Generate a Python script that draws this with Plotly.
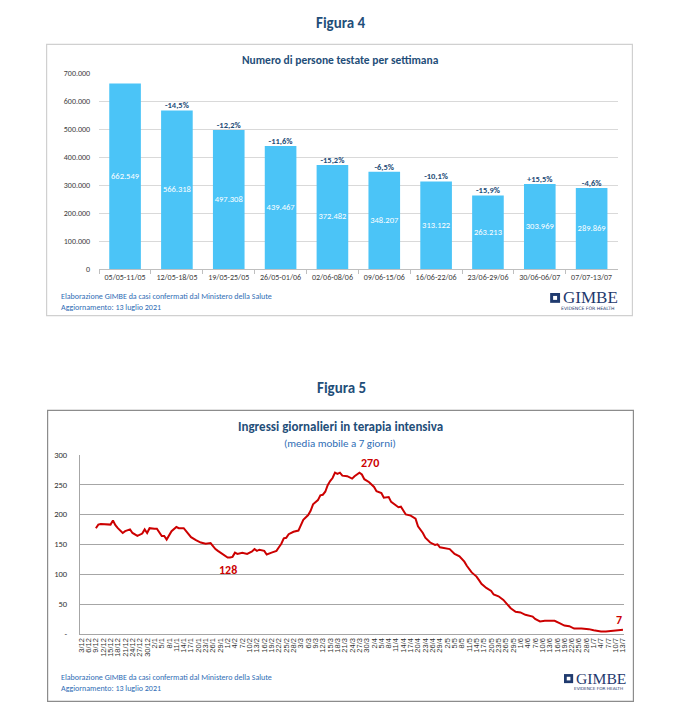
import pandas as pd
import plotly.graph_objects as go

W, H = 682, 726

# ---------------- Figura 4 data ----------------
weeks = ["05/05-11/05", "12/05-18/05", "19/05-25/05", "26/05-01/06", "02/06-08/06",
         "09/06-15/06", "16/06-22/06", "23/06-29/06", "30/06-06/07", "07/07-13/07"]
tested = [662549, 566318, 497308, 439467, 372482, 348207, 313122, 263213, 303969, 289869]
pct_change = ["", "-14,5%", "-12,2%", "-11,6%", "-15,2%", "-6,5%", "-10,1%", "-15,9%", "+15,5%", "-4,6%"]
y4_ticks = [0, 100000, 200000, 300000, 400000, 500000, 600000, 700000]

# ---------------- Figura 5 data ----------------
icu_dates = [
    "2020-12-09", "2020-12-10", "2020-12-11", "2020-12-14", "2020-12-15", "2020-12-16", "2020-12-17",
    "2020-12-18", "2020-12-20", "2020-12-21", "2020-12-23", "2020-12-24", "2020-12-26", "2020-12-28",
    "2020-12-29", "2020-12-30", "2020-12-31", "2021-01-02", "2021-01-03", "2021-01-05", "2021-01-06",
    "2021-01-07", "2021-01-09", "2021-01-11", "2021-01-12", "2021-01-14", "2021-01-15", "2021-01-17",
    "2021-01-19", "2021-01-21", "2021-01-23", "2021-01-25", "2021-01-26", "2021-01-27", "2021-01-28",
    "2021-01-29", "2021-01-31", "2021-02-01", "2021-02-02", "2021-02-03", "2021-02-04", "2021-02-05",
    "2021-02-07", "2021-02-09", "2021-02-11", "2021-02-12", "2021-02-13", "2021-02-14", "2021-02-16",
    "2021-02-17", "2021-02-19", "2021-02-21", "2021-02-22", "2021-02-23", "2021-02-24", "2021-02-25",
    "2021-02-26", "2021-02-28", "2021-03-02", "2021-03-03", "2021-03-04", "2021-03-06", "2021-03-07",
    "2021-03-08", "2021-03-10", "2021-03-11", "2021-03-12", "2021-03-13", "2021-03-14", "2021-03-15",
    "2021-03-16", "2021-03-17", "2021-03-18", "2021-03-19", "2021-03-20", "2021-03-22", "2021-03-23",
    "2021-03-24", "2021-03-25", "2021-03-27", "2021-03-28", "2021-03-29", "2021-03-31", "2021-04-02",
    "2021-04-03", "2021-04-05", "2021-04-06", "2021-04-08", "2021-04-09", "2021-04-11", "2021-04-12",
    "2021-04-13", "2021-04-15", "2021-04-17", "2021-04-19", "2021-04-20", "2021-04-22", "2021-04-23",
    "2021-04-25", "2021-04-27", "2021-04-28", "2021-04-29", "2021-05-01", "2021-05-03", "2021-05-05",
    "2021-05-07", "2021-05-09", "2021-05-10", "2021-05-12", "2021-05-14", "2021-05-15", "2021-05-16",
    "2021-05-18", "2021-05-20", "2021-05-21", "2021-05-23", "2021-05-25", "2021-05-27", "2021-05-28",
    "2021-05-30", "2021-06-01", "2021-06-03", "2021-06-06", "2021-06-07", "2021-06-09", "2021-06-11",
    "2021-06-13", "2021-06-15", "2021-06-17", "2021-06-19", "2021-06-21", "2021-06-23", "2021-06-26",
    "2021-06-29", "2021-07-01", "2021-07-04", "2021-07-06", "2021-07-08", "2021-07-10", "2021-07-12",
    "2021-07-13",
]
icu_values = [
    177, 183, 184, 184, 183, 190, 182,
    177, 169, 172, 175, 169, 164, 168,
    175, 169, 177, 176, 176, 164, 164,
    158, 172, 179, 177, 177, 172, 162,
    157, 153, 151, 152, 147, 142, 139,
    136, 131, 128, 128, 129, 136, 134,
    136, 134, 138, 142, 139, 141, 139,
    133, 136, 139, 145, 151, 160, 161,
    167, 171, 173, 182, 191, 199, 206,
    217, 224, 232, 233, 238, 249, 256,
    261, 270, 268, 270, 265, 264, 262,
    260, 264, 270, 267, 259, 254, 246,
    239, 236, 228, 229, 221, 215, 212,
    213, 200, 198, 193, 180, 169, 161,
    153, 149, 150, 145, 143, 142, 134,
    130, 121, 114, 103, 96, 90, 84,
    77, 72, 66, 63, 57, 48, 43,
    37, 36, 32, 29, 25, 21, 22,
    22, 22, 18, 14, 13, 9, 9,
    8, 6, 4, 4, 5, 6, 7,
    7,
]
x5_tick_dates = pd.date_range("2020-12-03", "2021-07-13", freq="3D")
x5_tick_labels = [f"{d.day}/{d.month}" for d in x5_tick_dates]
y5_ticks = [0, 50, 100, 150, 200, 250, 300]
y5_tick_labels = ["-", "50", "100", "150", "200", "250", "300"]

# ---------------- styling ----------------
FONT = "Carlito, Lato, 'Open Sans', sans-serif"
NAVY = "#1F4E79"
SRC_BLUE = "#2F6DB5"
BAR_BLUE = "#4BC4F7"
RED = "#CC0000"


def px(x):
    return x / W


def py(y):
    return 1 - y / H


def fmt_it(v):
    return f"{v:,}".replace(",", ".")


fig = go.Figure()

# Figura 4 bars
fig.add_trace(go.Bar(x=weeks, y=tested, marker=dict(color=BAR_BLUE, line=dict(width=0)),
                     xaxis="x", yaxis="y", hoverinfo="skip"))
fig.add_trace(go.Scatter(x=weeks, y=[v / 2 for v in tested], mode="text",
                         text=[fmt_it(v) for v in tested],
                         textfont=dict(family=FONT, size=8.5, color="white"),
                         xaxis="x", yaxis="y", hoverinfo="skip"))
fig.add_trace(go.Scatter(x=weeks, y=tested, mode="text", textposition="top center",
                         text=[f"<b>{p}</b>" for p in pct_change],
                         textfont=dict(family=FONT, size=8.5, color=NAVY),
                         xaxis="x", yaxis="y", hoverinfo="skip"))

# Figura 5 line
fig.add_trace(go.Scatter(x=icu_dates, y=icu_values, mode="lines",
                         line=dict(color=RED, width=2), xaxis="x2", yaxis="y2", hoverinfo="skip"))

annotations = [
    dict(text="<b>Figura 4</b>", x=px(341), y=py(18), font=dict(size=15, color=NAVY)),
    dict(text="<b>Numero di persone testate per settimana</b>", x=px(340), y=py(56),
         font=dict(size=11.5, color=NAVY)),
    dict(text="Elaborazione GIMBE da casi confermati dal Ministero della Salute", x=px(57), y=py(295),
         xanchor="left", font=dict(size=8, color=SRC_BLUE)),
    dict(text="Aggiornamento: 13 luglio 2021", x=px(57), y=py(306), xanchor="left",
         font=dict(size=8, color=SRC_BLUE)),
    dict(text="<b>Figura 5</b>", x=px(341), y=py(388), font=dict(size=15, color=NAVY)),
    dict(text="<b>Ingressi giornalieri in terapia intensiva</b>", x=px(340), y=py(427),
         font=dict(size=13, color=NAVY)),
    dict(text="(media mobile a 7 giorni)", x=px(340), y=py(445), font=dict(size=11, color=SRC_BLUE)),
    dict(text="Elaborazione GIMBE da casi confermati dal Ministero della Salute", x=px(57), y=py(681),
         xanchor="left", font=dict(size=8, color=SRC_BLUE)),
    dict(text="Aggiornamento: 13 luglio 2021", x=px(57), y=py(693), xanchor="left",
         font=dict(size=8, color=SRC_BLUE)),
]
# logos
for (ix, iy, s) in [(552, 297, 1.0), (566, 683, 0.92)]:
    annotations.append(dict(text="GIMBE", x=px(ix + 11 * s), y=py(iy), xanchor="left",
                            font=dict(family="Liberation Serif, DejaVu Serif, serif", size=17 * s, color="#1F3A6E")))
    annotations.append(dict(text="EVIDENCE FOR HEALTH", x=px(ix + 38 * s), y=py(iy + 11 * s),
                            font=dict(family="DejaVu Sans, sans-serif", size=4.6 * s, color="#1F3A6E")))

for a in annotations:
    a.setdefault("xref", "paper")
    a.setdefault("yref", "paper")
    a.setdefault("showarrow", False)
    a.setdefault("xanchor", "center")
    a.setdefault("yanchor", "middle")
    a["font"].setdefault("family", FONT)

# data-anchored labels on figura 5
imin = icu_values.index(min(icu_values[:80]))
imax = icu_dates.index("2021-03-27")
annotations += [
    dict(text=f"<b>{icu_values[imin]}</b>", x=icu_dates[imin], y=icu_values[imin], xref="x2", yref="y2",
         showarrow=False, yshift=-13, font=dict(family=FONT, size=12, color=RED)),
    dict(text=f"<b>{icu_values[imax]}</b>", x=icu_dates[imax], y=icu_values[imax], xref="x2", yref="y2",
         showarrow=False, xshift=11, yshift=10, font=dict(family=FONT, size=12, color=RED)),
    dict(text=f"<b>{icu_values[-1]}</b>", x=icu_dates[-1], y=icu_values[-1], xref="x2", yref="y2",
         showarrow=False, xshift=-4, yshift=10, font=dict(family=FONT, size=12, color=RED)),
]

shapes = [
    dict(type="rect", xref="paper", yref="paper", x0=px(44), x1=px(635), y0=py(40), y1=py(315),
         line=dict(color="#D0D0D0", width=1.2), fillcolor="rgba(0,0,0,0)", layer="below"),
    dict(type="rect", xref="paper", yref="paper", x0=px(45), x1=px(636), y0=py(411), y1=py(706),
         line=dict(color="#8C8C8C", width=1.2), fillcolor="rgba(0,0,0,0)", layer="below"),
]
for (ix, iy, s) in [(552, 297, 1.0), (566, 683, 0.92)]:
    shapes.append(dict(type="rect", xref="paper", yref="paper", x0=px(ix), x1=px(ix + 10 * s),
                       y0=py(iy + 5 * s), y1=py(iy - 5 * s), line=dict(width=0), fillcolor="#1F3A6E"))
    shapes.append(dict(type="rect", xref="paper", yref="paper", x0=px(ix + 3 * s), x1=px(ix + 7 * s),
                       y0=py(iy + 2 * s), y1=py(iy - 2 * s), line=dict(width=0), fillcolor="white"))

fig.update_layout(
    width=W, height=H, margin=dict(l=0, r=0, t=0, b=0),
    paper_bgcolor="white", plot_bgcolor="white", showlegend=False,
    bargap=0.39,
    font=dict(family=FONT, color="#404040"),
    xaxis=dict(domain=[px(97), px(620)], anchor="y", type="category",
               showline=True, linecolor="#BFBFBF", linewidth=1,
               ticks="outside", tickson="boundaries", ticklen=4, tickcolor="#BFBFBF",
               tickfont=dict(size=8, color="#404040"), showgrid=False),
    yaxis=dict(domain=[py(268), py(69)], anchor="x", range=[0, 700000],
               tickmode="array", tickvals=y4_ticks, ticktext=[fmt_it(v) for v in y4_ticks],
               gridcolor="#D9D9D9", gridwidth=1, zeroline=False, showline=False,
               tickfont=dict(size=8, color="#404040"), ticklabelstandoff=8),
    xaxis2=dict(domain=[px(77.7), px(626.7)], anchor="y2", type="date",
                range=["2020-12-02 12:00", "2021-07-13 12:00"],
                tickmode="array", tickvals=list(x5_tick_dates), ticktext=x5_tick_labels,
                tickangle=-90, tickfont=dict(size=7.5, color="#333333",
                                             family="'Liberation Sans Narrow', 'Liberation Sans', Arial, sans-serif"),
                showgrid=False, showline=True, linecolor="#A6A6A6", linewidth=1.3, ticks=""),
    yaxis2=dict(domain=[py(637.7), py(456)], anchor="x2", range=[0, 300],
                tickmode="array", tickvals=y5_ticks, ticktext=y5_tick_labels,
                gridcolor="#A6A6A6", gridwidth=1.3, zeroline=False,
                showline=True, linecolor="#A6A6A6", linewidth=1.3,
                tickfont=dict(size=8.5, color="#333333"), ticklabelstandoff=10),
    annotations=annotations, shapes=shapes,
)

fig.write_html("out.html", config={"displayModeBar": False},
               post_script="document.body.style.margin='0';document.body.style.overflow='hidden';")
